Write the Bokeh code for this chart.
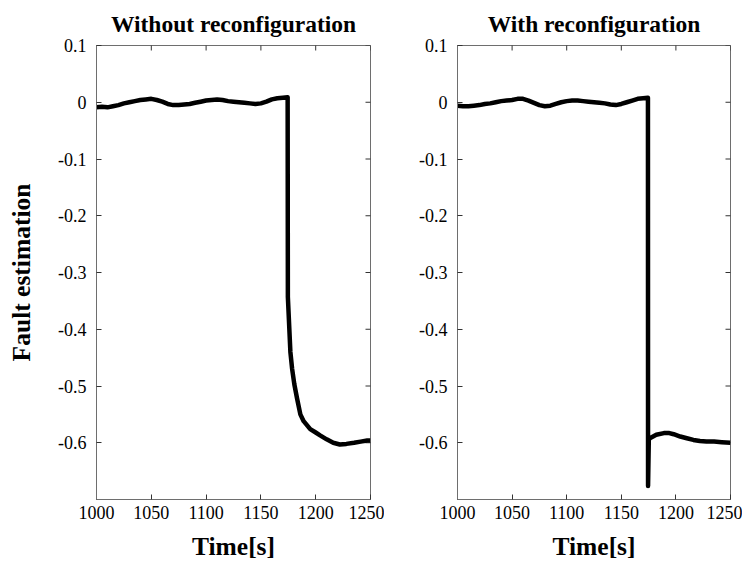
import math
from bokeh.plotting import figure
from bokeh.layouts import row
from bokeh.models import FixedTicker, Range1d
from bokeh.embed import file_html
from bokeh.resources import INLINE

# ---------------- data ----------------
titles = ["Without reconfiguration", "With reconfiguration"]
x_label = "Time[s]"
y_label = "Fault estimation"
x_ticks = [1000, 1050, 1100, 1150, 1200, 1250]
y_ticks = [0.1, 0.0, -0.1, -0.2, -0.3, -0.4, -0.5, -0.6]
y_tick_labels = ["0.1", "0", "-0.1", "-0.2", "-0.3", "-0.4", "-0.5", "-0.6"]
x_min, x_max = 1000, 1250
y_min, y_max = -0.7, 0.1

pre_t = [1000, 1005, 1010, 1015, 1020, 1025, 1030, 1035, 1040, 1045, 1050,
         1055, 1060, 1065, 1070, 1075, 1080, 1085, 1090, 1095, 1100, 1105,
         1110, 1115, 1120, 1125, 1130, 1135, 1140, 1145, 1150, 1155, 1160,
         1165, 1170, 1174.4]

left_pre = [-0.009, -0.008, -0.009, -0.007, -0.005, -0.002, 0.000, 0.002,
            0.004, 0.005, 0.006, 0.004, 0.001, -0.003, -0.005, -0.005,
            -0.004, -0.003, -0.001, 0.001, 0.003, 0.004, 0.005, 0.004, 0.002,
            0.001, 0.000, -0.001, -0.002, -0.003, -0.002, 0.001, 0.005, 0.007,
            0.008, 0.009]
left_post_t = [1174.6, 1176.9, 1178.5, 1180.5, 1183, 1186, 1189, 1195, 1200,
               1204, 1210, 1216, 1222, 1228, 1235, 1241, 1247, 1250]
left_post = [-0.343, -0.44, -0.47, -0.497, -0.522, -0.55, -0.562, -0.576,
             -0.582, -0.587, -0.594, -0.600, -0.603, -0.602, -0.600, -0.598,
             -0.596, -0.596]

right_pre = [-0.006, -0.007, -0.007, -0.006, -0.005, -0.003, -0.002, 0.000,
             0.002, 0.003, 0.004, 0.006, 0.006, 0.003, -0.001, -0.005,
             -0.007, -0.006, -0.003, 0.000, 0.002, 0.003, 0.003, 0.002, 0.001,
             0.000, -0.001, -0.002, -0.004, -0.005, -0.003, 0.000, 0.003,
             0.006, 0.007, 0.008]
right_post_t = [1174.5, 1175.2, 1177, 1182, 1189, 1194, 1198, 1204, 1210,
                1216, 1222, 1228, 1235, 1242, 1250]
right_post = [-0.676, -0.594, -0.591, -0.586, -0.583, -0.583, -0.585, -0.589,
              -0.592, -0.595, -0.597, -0.598, -0.598, -0.599, -0.600]

FONT = "Liberation Serif"
AXIS_GRAY = "#6e6e6e"
TICK_COLOR = "#333333"


def make_fig(title, xs, ys, width, mb_left, mb_right, show_ylabel):
    p = figure(width=width, height=563, output_backend="svg",
               toolbar_location=None, x_range=Range1d(x_min, x_max),
               y_range=Range1d(y_min, y_max), min_border_left=mb_left,
               min_border_right=mb_right, min_border_top=43,
               min_border_bottom=60)
    p.title.text = title
    p.title.text_font = FONT
    p.title.text_font_style = "bold"
    p.title.text_font_size = "23.5px"
    p.title.text_color = "black"
    p.title.align = "center"
    p.title.standoff = 17
    p.xgrid.visible = False
    p.ygrid.visible = False
    p.outline_line_color = AXIS_GRAY
    p.background_fill_color = "white"
    p.border_fill_color = "white"

    xt = FixedTicker(ticks=x_ticks, minor_ticks=[])
    yt = FixedTicker(ticks=y_ticks, minor_ticks=[])
    overrides = {t: l for t, l in zip(y_ticks, y_tick_labels)}

    for ax in list(p.xaxis) + list(p.yaxis):
        ax.major_tick_in = 5
        ax.major_tick_out = 0
        ax.minor_tick_line_color = None
        ax.axis_line_color = AXIS_GRAY
        ax.major_tick_line_color = TICK_COLOR
        ax.major_label_text_font = FONT
        ax.major_label_text_font_size = "18px"
        ax.major_label_text_color = "black"
        ax.axis_label_text_font = FONT
        ax.axis_label_text_font_style = "bold"
        ax.axis_label_text_font_size = "25.5px"
        ax.axis_label_text_color = "black"
    for ax in p.xaxis:
        ax.ticker = xt
        ax.axis_label = x_label
        ax.major_label_standoff = 6
        ax.axis_label_standoff = 10
    for ax in p.yaxis:
        ax.ticker = yt
        ax.major_label_overrides = overrides
        ax.axis_label = y_label if show_ylabel else None
        ax.major_label_standoff = 10
        ax.axis_label_standoff = 19

    # inward tick marks on the top and right frame edges (box style)
    p.scatter(x=x_ticks, y=[y_max] * len(x_ticks), marker="dash", size=10,
              angle=math.pi / 2, line_color=TICK_COLOR, line_width=1)
    p.scatter(x=[x_max] * len(y_ticks), y=y_ticks, marker="dash", size=10,
              line_color=TICK_COLOR, line_width=1)

    p.line(xs, ys, line_color="black", line_width=4.5, line_join="round")
    return p


p1 = make_fig(titles[0], pre_t + left_post_t, left_pre + left_post,
              384, 96, 14, True)
p2 = make_fig(titles[1], pre_t + right_post_t, right_pre + right_post,
              358, 73, 12, False)

layout = row(p1, p2)
open("out.html", "w").write(file_html(layout, INLINE))
